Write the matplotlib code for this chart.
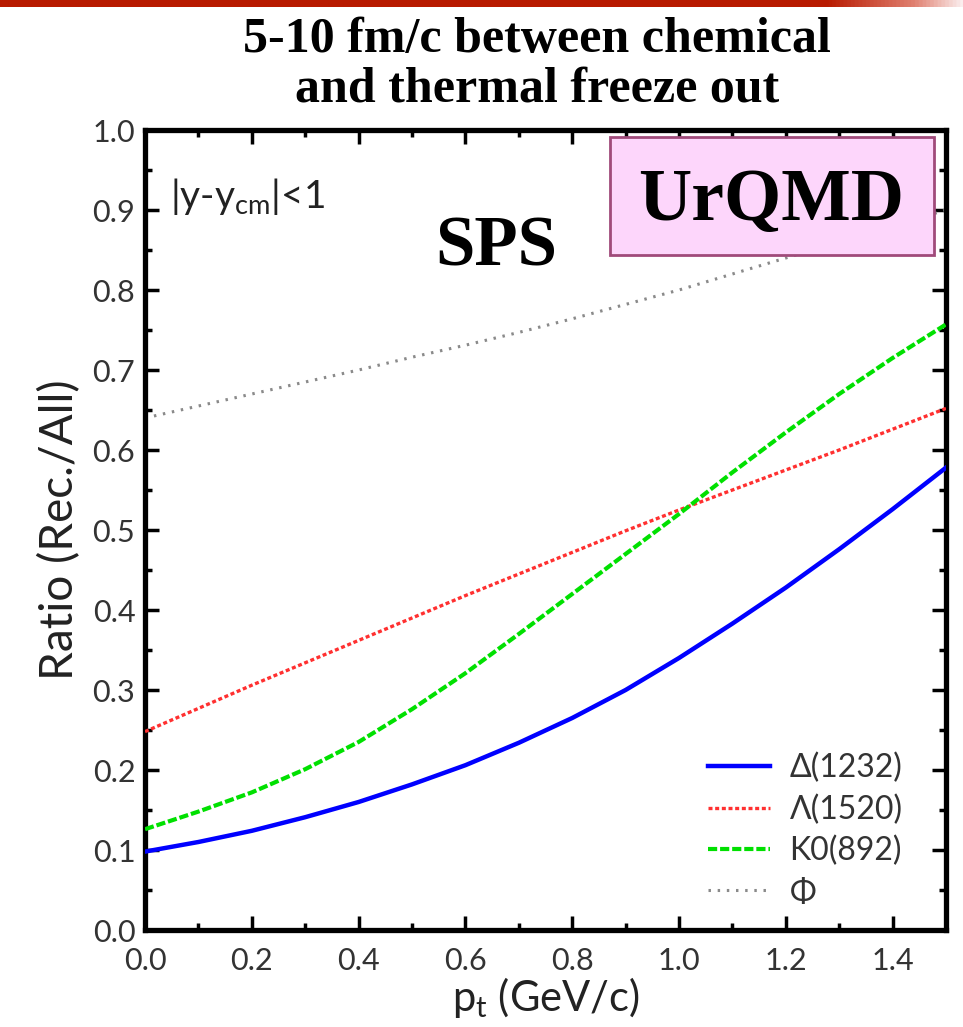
import numpy as np
import matplotlib
matplotlib.use("Agg")
import matplotlib.pyplot as plt
from matplotlib.colors import LinearSegmentedColormap
from matplotlib.patches import Rectangle

# data
pt = [0.0, 0.1, 0.2, 0.3, 0.4, 0.5, 0.6, 0.7, 0.8, 0.9, 1.0, 1.1, 1.2, 1.3, 1.4, 1.5]
delta1232 = [0.098, 0.110, 0.124, 0.141, 0.160, 0.182, 0.206, 0.234, 0.265, 0.300, 0.340, 0.383, 0.428, 0.476, 0.526, 0.578]
lambda1520 = [0.248, 0.277, 0.306, 0.334, 0.362, 0.390, 0.418, 0.445, 0.472, 0.499, 0.525, 0.550, 0.575, 0.600, 0.626, 0.652]
k892 = [0.126, 0.148, 0.172, 0.201, 0.235, 0.276, 0.321, 0.370, 0.420, 0.470, 0.520, 0.572, 0.622, 0.670, 0.715, 0.757]
phi = [0.640, 0.655, 0.670, 0.685, 0.700, 0.716, 0.731, 0.747, 0.764, 0.782, 0.800, 0.820, 0.840, 0.860, 0.880, 0.900]
labels = ["Δ(1232)", "Λ(1520)", "K0(892)", "Φ"]

x_ticks = [0.0, 0.2, 0.4, 0.6, 0.8, 1.0, 1.2, 1.4]
y_ticks = [0.0, 0.1, 0.2, 0.3, 0.4, 0.5, 0.6, 0.7, 0.8, 0.9, 1.0]

sans = ["Lato", "DejaVu Sans"]
serif = ["Liberation Serif", "DejaVu Serif"]
plt.rcParams["mathtext.default"] = "regular"

fig = plt.figure(figsize=(9.63, 10.27), dpi=100)

# red strip along the top edge
bar = fig.add_axes([0, 1 - 7 / 1027, 1, 7 / 1027])
cmap = LinearSegmentedColormap.from_list(
    "strip", [(0, "#b81a00"), (0.86, "#b81a00"), (0.95, "#e08070"), (1, "#fbeeee")])
bar.imshow(np.linspace(0, 1, 512)[None, :], cmap=cmap, aspect="auto")
bar.axis("off")

fig.text(537 / 963, 1 - 52 / 1027, "5-10 fm/c between chemical", ha="center",
         va="baseline", fontsize=36, fontweight="bold", family=serif)
fig.text(537 / 963, 1 - 101 / 1027, "and thermal freeze out", ha="center",
         va="baseline", fontsize=36, fontweight="bold", family=serif)

ax = fig.add_axes([145 / 963, 1 - 930 / 1027, 801 / 963, 800 / 1027])

ax.plot(pt, delta1232, color="#0000ff", lw=3.2, label=labels[0], zorder=3)
ax.plot(pt, lambda1520, color="#ff3030", lw=2.4, ls=(0, (1.2, 0.8)), label=labels[1], zorder=3)
ax.plot(pt, k892, color="#00e000", lw=3.0, ls=(0, (2.2, 0.7)), label=labels[2], zorder=3)
ax.plot(pt, phi, color="#8a8a8a", lw=2.2, ls=(0, (0.8, 2.2)), label=labels[3], zorder=2)

ax.set_xlim(0, 1.5)
ax.set_ylim(0, 1.0)
ax.set_xticks(x_ticks)
ax.set_yticks(y_ticks)
ax.set_xticks(np.arange(0.1, 1.5, 0.2), minor=True)
ax.set_yticks(np.arange(0.05, 1.0, 0.1), minor=True)
ax.set_xticklabels(["%.1f" % v for v in x_ticks])
ax.set_yticklabels(["%.1f" % v for v in y_ticks])
ax.tick_params(which="both", direction="in", top=True, right=True, width=2.5, color="black")
ax.tick_params(which="major", length=10, labelsize=22, labelcolor="#333333")
ax.tick_params(axis="x", which="major", pad=12)
ax.tick_params(axis="y", which="major", pad=7)
ax.tick_params(which="minor", length=5)
for lab in ax.get_xticklabels() + ax.get_yticklabels():
    lab.set_family(sans)
for s in ax.spines.values():
    s.set_linewidth(3.8)

ax.set_xlabel("p$_t$ (GeV/c)", fontsize=30, family=sans, color="#222222", labelpad=0)
ax.set_ylabel("Ratio (Rec./All)", fontsize=33, family=sans, color="#222222", labelpad=8)

ax.text(0.047, 0.9025, "|y-y$_{cm}$|<1", fontsize=28, family=sans, color="#222222",
        va="baseline")
ax.text(0.657, 0.831, "SPS", fontsize=51, fontweight="bold", family=serif,
        ha="center", va="baseline")

ax.add_patch(Rectangle((0.871, 0.844), 0.607, 0.147, facecolor="#fdd6fb",
                       edgecolor="#a04a7a", lw=2, zorder=5))
ax.text(1.172, 0.8875, "UrQMD", fontsize=53, fontweight="bold", family=serif,
        ha="center", va="baseline", zorder=6)

leg = ax.legend(loc="lower left", bbox_to_anchor=(0.703, 0.028), frameon=False,
                prop={"family": sans, "size": 23}, handlelength=1.95,
                handletextpad=0.6, labelspacing=0.35, borderpad=0, borderaxespad=0)
for t in leg.get_texts():
    t.set_color("#333333")

fig.savefig("out.png", dpi=100)
